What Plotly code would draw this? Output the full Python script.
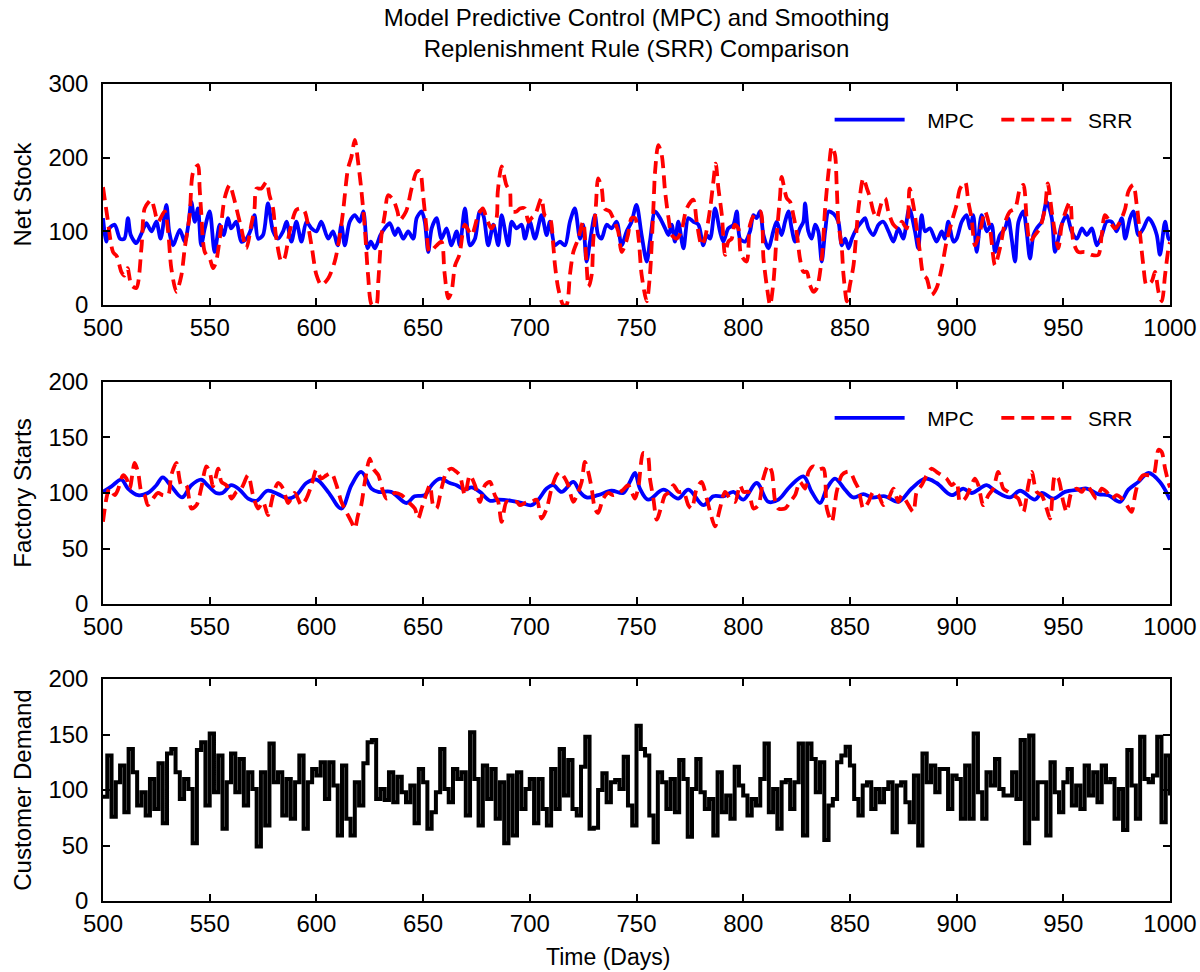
import plotly.graph_objects as go

# ---------------- Net stock (days 500-1000) ----------------
ns_mpc_day = [
    500, 501.6, 503, 505.5, 508, 510, 511.7, 513, 515.6, 518,
    520.3, 522.7, 525, 527, 529.7, 531, 532.8, 536, 538.3, 540,
    541.4, 543, 544.5, 546, 547.7, 550, 552.3, 554.7, 556.5, 558.6,
    560, 562.5, 564.8, 567.2, 569.5, 571, 572.7, 575, 577.3, 579.7,
    582, 584.4, 586, 588.3, 590.6, 593, 595.3, 597.7, 600, 602.3,
    605.5, 607.8, 610, 611.7, 613.3, 615.6, 618, 620.3, 622, 624,
    625.5, 627.4, 630, 632, 634.4, 636.8, 638.3, 640.7, 643, 645.4,
    647, 649.3, 650.8, 652.4, 654, 656.3, 658.6, 661, 663.3, 665.7,
    667.2, 669.6, 672, 674.3, 676.6, 678.2, 680.5, 682.9, 685.2, 686.8,
    689.9, 691.5, 693.8, 696.2, 697.7, 700, 702.4, 705.5, 707.9, 709.4,
    711.8, 714.1, 716.5, 718.8, 721.1, 723.5, 725, 726.6, 728.2, 730.5,
    732, 733.6, 736, 738.3, 740.7, 743, 745.4, 747.7, 750, 752.4,
    754.8, 756.3, 758.7, 761, 763.4, 765, 766.5, 768, 769.6, 772,
    774.3, 776.6, 779, 781.3, 782.9, 784.5, 786.8, 789.1, 790.7, 793,
    795.4, 797, 798.5, 800.9, 803.2, 804.8, 806.3, 807.9, 809.5, 811.8,
    814.1, 815.7, 818, 819.6, 821.2, 822.7, 824.3, 826.6, 828.2, 829,
    830.5, 832.1, 833.7, 835.2, 836.8, 838.4, 840, 842.3, 844.6, 846.2,
    847.8, 849.4, 850.9, 853.2, 855.5, 857.1, 858.7, 861, 863.4, 865.7,
    868.1, 870.4, 872.7, 875, 877.8, 880.5, 882, 883.6, 885.2, 887.5,
    890.6, 893, 894.5, 896.1, 898.5, 900, 902.4, 904.7, 906.3, 907.8,
    909.4, 911.7, 914.1, 916.4, 918, 920.3, 922.7, 924.2, 925.8, 927.4,
    929, 931.3, 932.8, 934.4, 936, 937.5, 939.9, 942.2, 944.6, 946.1,
    947.7, 949.2, 951.6, 953.9, 956.4, 958.7, 961, 963.4, 965.7, 968.1,
    970.3, 972.7, 975, 977.4, 979, 981.3, 982.8, 985.2, 987.5, 989.9,
    991.4, 993.8, 995.3, 997.7, 999.3, 1000,
]
ns_mpc = [
    118, 86, 104, 109, 90, 90, 118, 95, 84, 97,
    111, 100, 113, 90, 136, 100, 81, 102, 86, 109,
    140, 113, 131, 81, 104, 127, 72, 109, 95, 118,
    104, 113, 86, 90, 104, 122, 90, 95, 138, 100,
    90, 100, 113, 86, 113, 86, 113, 104, 100, 113,
    90, 100, 81, 109, 81, 113, 122, 113, 127, 77,
    86, 77, 95, 104, 111, 95, 104, 90, 100, 90,
    118, 127, 113, 72, 104, 118, 90, 104, 81, 100,
    81, 131, 81, 90, 127, 122, 81, 109, 81, 122,
    81, 113, 104, 109, 90, 113, 90, 122, 95, 113,
    81, 86, 81, 113, 131, 90, 109, 59, 86, 122,
    95, 90, 109, 104, 113, 81, 100, 113, 136, 95,
    59, 86, 127, 118, 104, 95, 109, 86, 113, 77,
    118, 113, 109, 81, 95, 90, 131, 100, 86, 104,
    109, 127, 90, 86, 100, 122, 118, 127, 95, 77,
    100, 113, 95, 113, 127, 104, 86, 104, 113, 138,
    100, 90, 109, 100, 59, 100, 127, 124, 113, 81,
    90, 77, 90, 104, 113, 118, 104, 95, 109, 113,
    100, 86, 104, 90, 131, 100, 77, 122, 100, 104,
    86, 100, 90, 113, 86, 90, 113, 122, 104, 122,
    72, 122, 100, 109, 72, 95, 104, 118, 90, 59,
    113, 127, 100, 63, 95, 104, 113, 140, 118, 72,
    90, 109, 122, 100, 90, 104, 95, 104, 81, 95,
    113, 113, 100, 118, 90, 118, 127, 95, 104, 118,
    113, 95, 68, 113, 90, 88,
]

ns_srr_day = [
    500, 502, 504.7, 506.5, 508.6, 510, 511.5, 513.3, 515.6, 518,
    519.5, 521.5, 522.7, 524, 525.8, 528.9, 530.5, 532, 534.4, 536.7,
    538.3, 540.6, 542.2, 544.5, 545.3, 546, 547.7, 550, 551.6, 553,
    554.7, 557, 559.4, 561, 563.3, 564.8, 567.2, 569.5, 571, 571.9,
    574.2, 576.6, 578, 579.7, 581, 583.6, 585, 587.5, 590.6, 593,
    594.5, 597.7, 600, 602.3, 605.5, 608.6, 611, 612.5, 614.8, 616.4,
    618, 619.5, 621, 622.7, 624.2, 626, 628, 629, 630.5, 632,
    633.6, 636, 638, 639, 642, 644.6, 647, 648.5, 650, 651.6,
    653, 656, 658.6, 660, 661.8, 663.3, 665, 667, 669.6, 672.7,
    675.8, 678, 679.7, 682, 684.4, 685, 686.8, 689, 690.7, 691.5,
    693.8, 695.4, 697.7, 699.3, 700.8, 702.4, 705.5, 707, 709.4, 711,
    711.8, 713.3, 715.7, 717.2, 718.8, 720.4, 722.7, 725, 726.5, 727.5,
    729, 729.7, 731, 732, 733.7, 735, 737.5, 739, 741.4, 743,
    744.6, 746, 747.7, 749.3, 751, 752.4, 754.8, 756.3, 757.9, 758.7,
    760.2, 761.8, 763.4, 765, 766.5, 768.8, 771, 773.5, 776.6, 778.2,
    780.5, 782, 784.5, 786, 787.1, 788.4, 790, 791.5, 793, 794.6,
    796, 797.7, 799, 801.6, 803.2, 805.5, 808, 809.5, 811, 812.6,
    814.2, 815.7, 817.3, 818, 820.4, 822, 823.5, 825, 826.6, 828.2,
    829.8, 831.3, 832.9, 834.5, 836.8, 838.4, 840, 841.5, 843, 843.8,
    844.6, 846.2, 847, 848.6, 850, 851.7, 854, 856.3, 858, 859.5,
    861, 862.6, 865, 866.5, 868, 870.4, 872.7, 874.3, 876.6, 878,
    880, 881.3, 882.8, 884.4, 886, 888.3, 890.6, 893, 895.3, 897.7,
    900, 901.6, 904, 905.5, 907, 908.6, 911, 913.3, 915.6, 918,
    920.3, 922.8, 925, 927.4, 929.7, 931.3, 932.8, 934.4, 936.7, 939,
    941.4, 942.7, 944.6, 946, 947.7, 949.3, 951.6, 953.2, 954.7, 957,
    960.2, 963.3, 966.4, 968, 969.5, 971.9, 974.2, 976.6, 979, 980.5,
    982.8, 984.4, 986, 987.5, 989, 991.4, 993, 994.6, 996.2, 997.7,
    999.3, 1000,
]
ns_srr = [
    160, 120, 72, 66, 45, 40, 50, 27, 23, 77,
    131, 140, 143, 131, 113, 127, 100, 50, 18, 40,
    77, 122, 180, 190, 158, 127, 72, 63, 50, 59,
    90, 145, 163, 149, 122, 104, 77, 109, 131, 158,
    158, 167, 149, 131, 95, 59, 63, 100, 129, 131,
    127, 81, 41, 27, 36, 59, 95, 127, 185, 201,
    224, 195, 158, 104, 41, 0, 0, 32, 95, 122,
    149, 143, 127, 115, 127, 158, 181, 181, 149, 104,
    72, 80, 86, 45, 9, 18, 54, 68, 109, 95,
    122, 131, 118, 104, 118, 154, 188, 163, 154, 127,
    127, 131, 131, 113, 118, 122, 145, 122, 118, 81,
    54, 23, 0, 0, 41, 72, 90, 113, 60, 25,
    41, 86, 136, 172, 158, 131, 127, 118, 100, 72,
    81, 95, 118, 118, 90, 41, 5, 41, 131, 181,
    217, 204, 154, 118, 95, 90, 100, 131, 143, 113,
    81, 90, 131, 167, 192, 158, 122, 68, 86, 90,
    109, 104, 68, 59, 109, 124, 127, 63, 27, 0,
    32, 95, 149, 174, 145, 140, 122, 100, 63, 45,
    45, 27, 18, 23, 63, 131, 181, 215, 204, 163,
    113, 77, 41, 5, 27, 54, 131, 172, 158, 145,
    127, 118, 140, 145, 127, 109, 104, 113, 104, 158,
    131, 104, 72, 41, 36, 14, 23, 50, 86, 113,
    136, 158, 167, 140, 118, 81, 100, 127, 104, 54,
    77, 113, 127, 131, 158, 163, 118, 86, 95, 104,
    131, 165, 127, 100, 77, 109, 131, 140, 86, 72,
    72, 68, 68, 95, 122, 113, 104, 113, 131, 154,
    163, 136, 95, 54, 27, 32, 45, 18, 5, 41,
    77, 85,
]

# ---------------- Factory starts ----------------
fs_mpc_day = [
    500, 504, 508.6, 511.7, 516.4, 521, 525, 528, 532, 537,
    541.4, 546, 549, 553, 556, 560, 564, 568, 572, 577,
    582, 586.7, 590.6, 595.3, 600, 605.5, 611.7, 616.4, 621, 625.8,
    629, 635, 642.2, 646, 650.8, 654, 657.9, 662.5, 665.7, 669.6,
    672.7, 676.6, 681.3, 685.2, 691.4, 696.1, 700.8, 704, 707.9, 711,
    714.9, 720.4, 723.5, 726.6, 732, 738.3, 743.8, 746.9, 749.3, 751.6,
    755.5, 762.6, 769.6, 774.3, 781.3, 786, 790.7, 795.4, 800.1, 806.3,
    811.8, 816.5, 822, 828.2, 832.1, 836, 839.2, 843, 847.7, 851.6,
    856.3, 860.2, 866.5, 872.7, 878.9, 885.2, 890.6, 897.7, 903.1, 907,
    914.1, 918, 925, 929.7, 936.7, 939.9, 945.3, 950.8, 957, 961,
    966.4, 971.1, 976.6, 980.5, 985.2, 989.9, 995.3, 1000,
]
fs_mpc = [
    101, 106, 112, 104, 98, 100, 107, 114, 106, 96,
    107, 112, 107, 100, 100, 107, 103, 95, 93, 102,
    99, 95, 98, 109, 112, 101, 86, 107, 119, 104,
    101, 101, 91, 97, 98, 107, 113, 109, 107, 103,
    105, 101, 93, 94, 93, 91, 89, 94, 104, 107,
    101, 110, 101, 96, 98, 102, 100, 110, 118, 104,
    94, 103, 95, 103, 89, 97, 97, 101, 94, 109,
    92, 94, 106, 115, 101, 91, 104, 113, 103, 96,
    99, 96, 97, 92, 104, 113, 109, 98, 104, 100,
    107, 102, 96, 102, 94, 100, 95, 101, 103, 104,
    99, 98, 92, 103, 110, 118, 110, 94,
]

fs_srr_day = [
    500, 501.6, 503, 505.5, 507, 509.4, 511, 512.5, 514.8, 516.4,
    518, 519.5, 521, 523.4, 525.8, 528, 530.5, 532, 534.4, 536.7,
    539, 541.4, 543.8, 546, 548.4, 550, 551.6, 554, 555.5, 557.8,
    560.2, 562.5, 564.8, 568, 570.3, 572.7, 575, 577.3, 579.7, 582,
    584.4, 586.7, 589.8, 593, 595.3, 597.7, 600, 602.3, 604.7, 607,
    609.4, 611.7, 614, 616.4, 618, 619.5, 621, 622.7, 625, 626.6,
    629, 631.3, 632.9, 636.8, 639.9, 643, 646.1, 647.7, 649.3, 650.8,
    653.2, 654.7, 656.3, 658.6, 661, 663.3, 665.7, 667.2, 669.6, 671.9,
    674.3, 676.6, 679, 681.3, 683.6, 685.2, 686.8, 689.1, 691.4, 693.8,
    695.4, 697.7, 700.8, 703.2, 705.5, 707.9, 710.2, 712.5, 714.1, 716.5,
    718, 720.4, 722.7, 724.3, 725.8, 727.4, 729, 730.5, 732, 734.4,
    736.8, 739.1, 741.5, 743.8, 746.1, 747.7, 749.3, 751, 753.2, 755.2,
    756.3, 757.9, 759.5, 761.8, 763.4, 765.7, 767.3, 769.6, 772, 774.3,
    775.9, 778.2, 780.5, 782.9, 784.5, 786.8, 789.1, 791.5, 793.8, 796.2,
    798.5, 800.1, 802.4, 804.8, 807.1, 809.4, 811.8, 813.4, 815, 816.5,
    819.6, 822, 824.3, 826.6, 829, 830.6, 832.9, 835.2, 837.6, 839.2,
    841.5, 843.8, 846.2, 848.5, 850.1, 852.4, 854, 856.3, 858.7, 861,
    863.4, 865.7, 868.1, 870.4, 872.7, 874.3, 876.6, 879.7, 881.3, 883.6,
    886, 888.3, 890.6, 893, 895.3, 897.7, 900, 901.6, 904, 906.3,
    908.6, 910.2, 912.5, 914.9, 917.2, 919.5, 921.9, 924.2, 926.6, 928.9,
    931.3, 933.6, 935.2, 937.5, 939.9, 942.2, 943.8, 946.1, 947.7, 950,
    951.6, 953.9, 956.3, 958.6, 961, 963.3, 965.6, 968, 970.3, 972.7,
    975, 977.4, 979.7, 982, 983.6, 985.2, 987.5, 989.9, 992.2, 994.6,
    996.1, 997.7, 999.2, 1000,
]
fs_srr = [
    74, 95, 104, 98, 103, 116, 113, 104, 127, 119,
    101, 98, 89, 95, 100, 98, 98, 116, 127, 107,
    107, 86, 89, 104, 124, 119, 106, 122, 110, 107,
    95, 101, 104, 116, 98, 86, 92, 80, 98, 109,
    104, 91, 100, 89, 95, 107, 121, 113, 116, 118,
    107, 92, 83, 74, 68, 80, 89, 110, 131, 122,
    116, 101, 95, 100, 98, 92, 86, 77, 86, 95,
    107, 89, 86, 104, 119, 122, 119, 116, 98, 116,
    107, 92, 107, 110, 98, 92, 74, 92, 91, 92,
    89, 91, 92, 94, 77, 86, 104, 116, 119, 113,
    107, 92, 101, 110, 128, 119, 104, 86, 82, 95,
    100, 98, 100, 103, 107, 101, 95, 107, 136, 134,
    113, 95, 76, 89, 98, 101, 107, 101, 101, 89,
    86, 104, 110, 95, 83, 70, 86, 101, 95, 92,
    107, 101, 101, 86, 89, 113, 125, 119, 92, 86,
    86, 92, 98, 110, 104, 119, 124, 121, 122, 86,
    74, 101, 116, 119, 119, 110, 104, 86, 92, 101,
    98, 89, 95, 104, 92, 98, 92, 83, 101, 107,
    116, 122, 119, 116, 113, 107, 110, 92, 95, 104,
    113, 107, 89, 98, 104, 119, 104, 101, 98, 95,
    83, 107, 119, 101, 98, 86, 77, 116, 113, 92,
    83, 101, 104, 101, 107, 101, 95, 104, 101, 95,
    98, 95, 89, 83, 98, 110, 116, 116, 116, 139,
    137, 122, 110, 105,
]

# ---------------- Customer demand (2-day steps from day 500) ----------------
demand = [
    94, 131, 76, 107, 122, 80, 137, 116, 86, 98,
    77, 110, 83, 124, 70, 133, 137, 116, 92, 110,
    101, 52, 136, 143, 86, 151, 98, 131, 65, 107,
    133, 98, 128, 86, 116, 101, 49, 116, 68, 142,
    107, 116, 77, 110, 74, 107, 131, 65, 107, 119,
    113, 125, 92, 125, 104, 59, 122, 74, 59, 107,
    86, 124, 143,
    145, 92, 101, 91, 116, 89, 112, 98, 89, 104,
    70, 119, 107, 65, 80, 98, 137, 101, 89, 119,
    110, 116, 77, 152, 110, 68, 122, 92, 119, 74,
    107, 52, 113, 59, 116, 83, 101, 110, 70, 110,
    83, 68, 119, 83, 137, 95, 127, 83, 77, 121,
    148, 65, 66, 100, 115, 89, 107, 109, 101, 130,
    86, 68, 158,
    137, 131, 77, 53, 116, 107, 83, 110, 80, 127,
    110, 58, 101, 128, 98, 83, 92, 59, 116, 80,
    95, 74, 121, 104, 95, 77, 92, 86, 110, 142,
    80, 101, 65, 107, 109, 83, 107, 142, 59, 142,
    128, 98, 125, 55, 86, 92, 125, 131, 139, 122,
    92, 77, 104, 107, 83, 101, 89, 101, 107, 62,
    104, 107, 89,
    71, 113, 50, 133, 107, 122, 98, 119, 119, 83,
    113, 110, 74, 122, 74, 151, 98, 74, 116, 104,
    128, 101, 95, 95, 116, 92, 145, 52, 149, 74,
    107, 107, 59, 125, 98, 80, 107, 119, 86, 104,
    83, 122, 95, 116, 89, 122, 107, 110, 74, 101,
    64, 136, 104, 74, 148, 110, 107, 113, 148, 71,
    131, 95,
]
demand_day = [500 + 2 * i for i in range(len(demand))]

x_ticks = [500, 550, 600, 650, 700, 750, 800, 850, 900, 950, 1000]

BLUE = "#0000ff"
RED = "#ff0000"
FONT = "Liberation Sans, Arial, Helvetica, sans-serif"
NB = "\u00a0"  # non-breaking space used to pad the legend labels

fig = go.Figure()

fig.add_trace(go.Scatter(
    x=ns_mpc_day, y=ns_mpc, name=NB * 3 + "MPC" + NB * 3, mode="lines",
    line=dict(color=BLUE, width=3.8, shape="spline", smoothing=0.8),
    xaxis="x", yaxis="y", legend="legend"))
fig.add_trace(go.Scatter(
    x=ns_srr_day, y=ns_srr, name=NB * 2 + "SRR", mode="lines",
    line=dict(color=RED, width=3.8, dash="13px,7px", shape="spline", smoothing=0.8),
    xaxis="x", yaxis="y", legend="legend"))

fig.add_trace(go.Scatter(
    x=fs_mpc_day, y=fs_mpc, name=NB * 3 + "MPC" + NB * 3, mode="lines",
    line=dict(color=BLUE, width=3.8, shape="spline", smoothing=1.0),
    xaxis="x2", yaxis="y2", legend="legend2"))
fig.add_trace(go.Scatter(
    x=fs_srr_day, y=fs_srr, name=NB * 2 + "SRR", mode="lines",
    line=dict(color=RED, width=3.8, dash="13px,7px", shape="spline", smoothing=0.8),
    xaxis="x2", yaxis="y2", legend="legend2"))

fig.add_trace(go.Scatter(
    x=demand_day, y=demand, name="Customer Demand", mode="lines",
    line=dict(color="black", width=4, shape="hv"),
    xaxis="x3", yaxis="y3", showlegend=False))

axis_common = dict(
    showline=True, linecolor="black", linewidth=1.5, mirror="ticks",
    ticks="inside", ticklen=7, tickwidth=1.5, tickcolor="black",
    showgrid=False, zeroline=False, automargin=False,
    tickfont=dict(size=24, color="black", family=FONT),
)

def x_axis(anchor):
    return dict(axis_common, range=[500, 1000], tickvals=x_ticks,
                anchor=anchor, ticklabelstandoff=0)

def y_axis(anchor, top, step, title, domain):
    return dict(axis_common, range=[0, top], dtick=step, anchor=anchor,
                domain=domain, ticklabelstandoff=8,
                title=dict(text=title, font=dict(size=24, color="black", family=FONT),
                           standoff=10))

legend_common = dict(
    orientation="h", xanchor="left", yanchor="middle",
    font=dict(size=21, color="black", family=FONT),
    itemwidth=70, bgcolor="rgba(0,0,0,0)", traceorder="normal",
)

fig.update_layout(
    width=1200, height=972,
    margin=dict(l=103, r=30, t=84, b=71, autoexpand=False),
    paper_bgcolor="white", plot_bgcolor="white",
    font=dict(family=FONT, color="black"),
    title=dict(
        text="Model Predictive Control (MPC) and Smoothing<br>Replenishment Rule (SRR) Comparison",
        x=0.5, xref="paper", xanchor="center",
        y=0.973, yref="container", yanchor="top",
        font=dict(size=24, color="black", family=FONT)),
    xaxis=x_axis("y"),
    yaxis=y_axis("x", 300, 100, "Net Stock", [0.7295, 1.0]),
    xaxis2=x_axis("y2"),
    yaxis2=y_axis("x2", 200, 50, "Factory Starts", [0.3635, 0.6353]),
    xaxis3=x_axis("y3"),
    yaxis3=y_axis("x3", 200, 50, "Customer Demand", [0.0, 0.2717]),
    legend=dict(legend_common, x=0.681, y=0.956),
    legend2=dict(legend_common, x=0.681, y=0.591),
    annotations=[dict(
        text="Time (Days)", xref="paper", yref="paper",
        x=0.473, y=-0.0685, xanchor="center", yanchor="middle",
        showarrow=False, font=dict(size=23, color="black", family=FONT))],
)

fig.write_html("out.html")
